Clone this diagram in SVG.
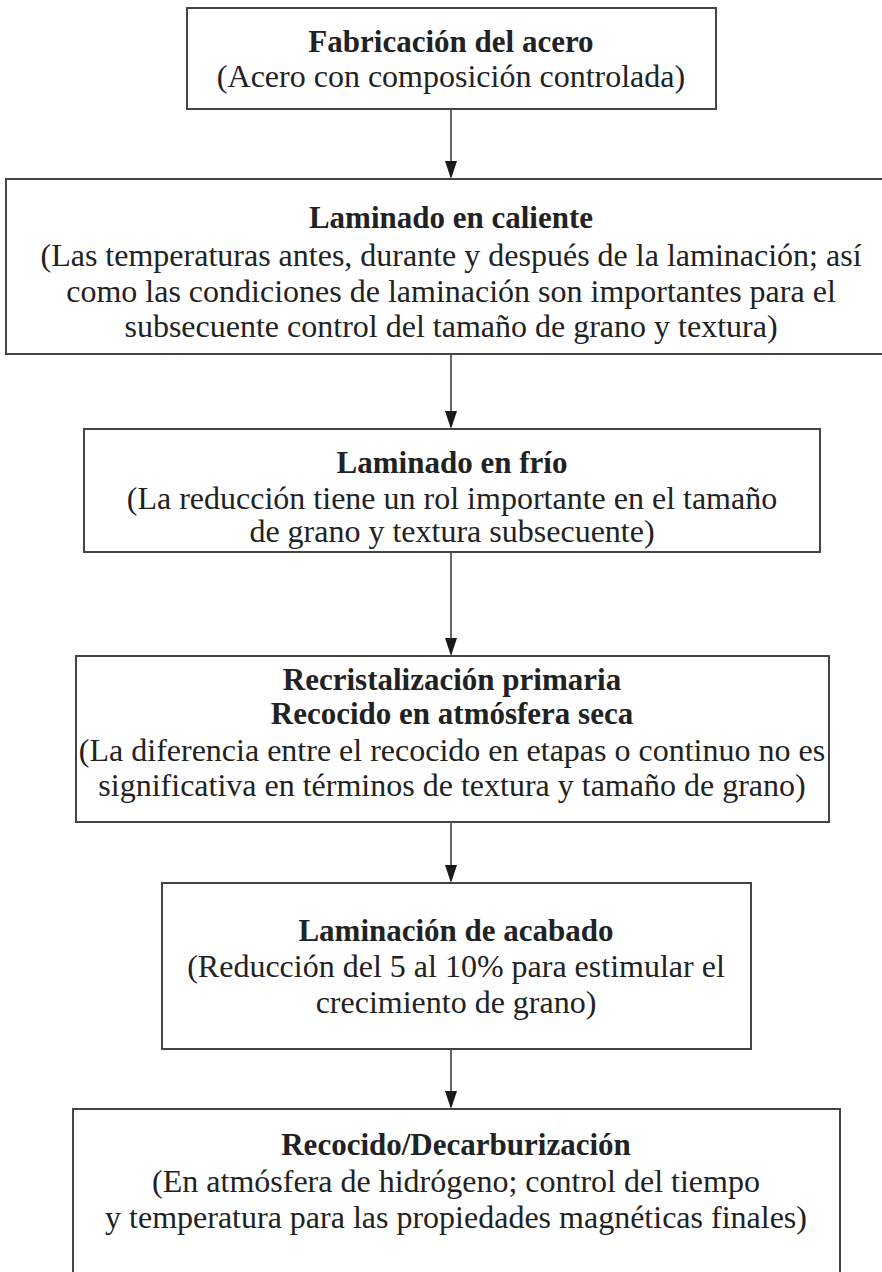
<svg xmlns="http://www.w3.org/2000/svg" width="882" height="1272" viewBox="0 0 882 1272">
<defs>
<style>
.box{fill:#fff;stroke:#444;stroke-width:2}
.t{font-family:"Liberation Serif","Times New Roman",serif;font-size:32px;fill:#222;text-anchor:middle}
.b{font-weight:bold;font-size:31px}
.c{stroke:#333;stroke-width:1.5;fill:none}
.h{fill:#1a1a1a}
</style>
</defs>
<rect width="882" height="1272" fill="#fff"/>
<g id="connectors">
<line class="c" x1="451" y1="109" x2="451" y2="162"/><path class="h" d="M445,161 L457,161 L451,179 Z"/>
<line class="c" x1="451" y1="354" x2="451" y2="412"/><path class="h" d="M445,411 L457,411 L451,429 Z"/>
<line class="c" x1="451" y1="552" x2="451" y2="639"/><path class="h" d="M445,638 L457,638 L451,656 Z"/>
<line class="c" x1="451" y1="822" x2="451" y2="866"/><path class="h" d="M445,865 L457,865 L451,883 Z"/>
<line class="c" x1="451" y1="1049" x2="451" y2="1092"/><path class="h" d="M445,1091 L457,1091 L451,1109 Z"/>
</g>
<g id="n1">
<rect class="box" x="187" y="8" width="529" height="101"/>
<text class="t b" x="451" y="52">Fabricación del acero</text>
<text class="t" x="451" y="87">(Acero con composición controlada)</text>
</g>
<g id="n2">
<rect class="box" x="6" y="179" width="880" height="175"/>
<text class="t b" x="451" y="228">Laminado en caliente</text>
<text class="t" x="451" y="266">(Las temperaturas antes, durante y después de la laminación; así</text>
<text class="t" x="451" y="302">como las condiciones de laminación son importantes para el</text>
<text class="t" x="451" y="337">subsecuente control del tamaño de grano y textura)</text>
</g>
<g id="n3">
<rect class="box" x="84" y="429" width="736" height="123"/>
<text class="t b" x="452" y="473">Laminado en frío</text>
<text class="t" x="452" y="509">(La reducción tiene un rol importante en el tamaño</text>
<text class="t" x="452" y="542">de grano y textura subsecuente)</text>
</g>
<g id="n4">
<rect class="box" x="76" y="656" width="753" height="166"/>
<text class="t b" x="452" y="690">Recristalización primaria</text>
<text class="t b" x="452" y="724">Recocido en atmósfera seca</text>
<text class="t" x="452" y="761">(La diferencia entre el recocido en etapas o continuo no es</text>
<text class="t" x="452" y="796">significativa en términos de textura y tamaño de grano)</text>
</g>
<g id="n5">
<rect class="box" x="162" y="883" width="589" height="166"/>
<text class="t b" x="456" y="941">Laminación de acabado</text>
<text class="t" x="456" y="977">(Reducción del 5 al 10% para estimular el</text>
<text class="t" x="456" y="1013">crecimiento de grano)</text>
</g>
<g id="n6">
<rect class="box" x="73" y="1109" width="767" height="200"/>
<text class="t b" x="456" y="1155">Recocido/Decarburización</text>
<text class="t" x="456" y="1192">(En atmósfera de hidrógeno; control del tiempo</text>
<text class="t" x="456" y="1228">y temperatura para las propiedades magnéticas finales)</text>
</g>
</svg>
